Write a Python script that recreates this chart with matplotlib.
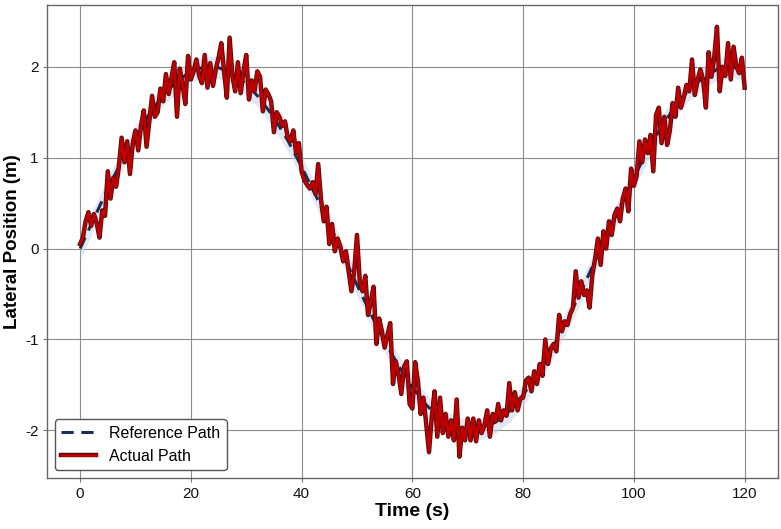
import matplotlib
matplotlib.use("Agg")
import matplotlib.pyplot as plt
import matplotlib.patheffects as pe
import numpy as np

plt.rcParams['font.family'] = ['Liberation Sans', 'DejaVu Sans']
plt.rcParams['axes.unicode_minus'] = False

# reference path, every 2.5 s
t_ref = np.arange(0, 120.01, 2.5)
ref_path = [0.00, 0.33, 0.66, 0.96, 1.24, 1.48, 1.69, 1.84, 1.95, 2.00,
            1.99, 1.93, 1.81, 1.65, 1.44, 1.19, 0.90, 0.59, 0.27, -0.07,
            -0.40, -0.72, -1.02, -1.29, -1.53, -1.72, -1.87, -1.96, -2.00, -1.98,
            -1.91, -1.79, -1.61, -1.39, -1.13, -0.84, -0.53, -0.20, 0.13, 0.46,
            0.78, 1.08, 1.34, 1.57, 1.75, 1.88, 1.97, 2.00, 1.97]

# actual path, every 0.5 s
t_act = np.arange(0, 120.01, 0.5)
actual_path = [
    0.05, 0.12, 0.30, 0.40, 0.25, 0.38, 0.28, 0.12, 0.42, 0.36,
    0.85, 0.55, 0.78, 0.68, 0.90, 1.22, 0.95, 1.18, 0.82, 1.15,
    1.30, 1.08, 1.35, 1.52, 1.12, 1.40, 1.68, 1.45, 1.50, 1.76,
    1.62, 1.92, 1.70, 1.88, 2.05, 1.45, 1.98, 1.80, 1.59, 2.12,
    1.86, 1.95, 2.08, 1.90, 1.82, 2.13, 1.77, 2.04, 1.79, 1.97,
    2.10, 2.26, 1.95, 1.66, 2.32, 1.90, 1.73, 2.05, 1.71, 1.95,
    2.13, 1.64, 1.85, 1.73, 1.95, 1.89, 1.51, 1.75, 1.70, 1.62,
    1.28, 1.50, 1.45, 1.35, 1.40, 1.22, 1.18, 1.30, 1.05, 1.16,
    0.85, 0.75, 0.70, 0.66, 0.73, 0.60, 0.93, 0.54, 0.30, 0.46,
    0.05, 0.27, -0.03, 0.11, 0.02, -0.14, -0.03, -0.25, -0.47, -0.25,
    0.15, -0.36, -0.47, -0.30, -0.73, -0.58, -0.42, -1.05, -0.77, -0.91,
    -1.09, -0.95, -0.82, -1.49, -1.24, -1.38, -1.60, -1.30, -1.24, -1.71,
    -1.76, -1.25, -1.46, -1.82, -1.64, -1.93, -2.24, -1.86, -1.57, -2.07,
    -1.64, -2.03, -1.82, -2.07, -1.89, -2.11, -1.66, -2.29, -1.97, -2.11,
    -1.87, -2.11, -1.87, -2.12, -1.89, -2.03, -1.95, -1.78, -2.07, -1.82,
    -1.90, -1.71, -1.89, -1.78, -1.84, -1.48, -1.78, -1.58, -1.78, -1.65,
    -1.64, -1.45, -1.42, -1.57, -1.35, -1.49, -1.27, -1.40, -1.00, -1.27,
    -1.10, -1.05, -1.13, -0.73, -0.91, -0.80, -0.84, -0.72, -0.65, -0.25,
    -0.54, -0.36, -0.51, -0.46, -0.65, -0.29, -0.11, 0.11, -0.18, 0.19,
    0.00, 0.30, 0.15, 0.37, 0.44, 0.30, 0.55, 0.66, 0.41, 0.88,
    0.69, 0.80, 1.18, 0.95, 1.20, 1.05, 1.25, 0.85, 1.47, 1.55,
    1.16, 1.45, 1.14, 1.30, 1.60, 1.45, 1.77, 1.55, 1.66, 1.80,
    1.73, 2.08, 1.69, 1.85, 1.97, 1.86, 1.55, 2.16, 1.89, 2.10,
    2.44, 1.73, 2.00, 1.90, 2.26, 1.86, 2.22, 2.00, 1.93, 2.10,
    1.77]

band = 0.12

fig = plt.figure(figsize=(7.81, 5.29), dpi=100)
ax = fig.add_axes([0.060, 0.096, 0.936, 0.894])

ref = np.array(ref_path)
ax.fill_between(t_ref, ref - band, ref + band, color='#c9d6ec', alpha=0.55, lw=0)
ax.plot(t_ref, ref, color='#1c2f57', lw=2.2, ls=(0, (4, 2.5)), label='Reference Path')
ax.plot(t_act, actual_path, color='#c00000', lw=2.0, label='Actual Path',
        path_effects=[pe.Stroke(linewidth=3.2, foreground='#4a0d0d'), pe.Normal()])

ax.set_xticks([0, 20, 40, 60, 80, 100, 120])
ax.set_yticks([-2, -1, 0, 1, 2])
ax.grid(True, color='#8c8c8c', lw=0.8)
ax.set_axisbelow(True)
ax.tick_params(labelsize=11, length=3, pad=3, color='#777777', colors='#111111')
for s in ax.spines.values():
    s.set_color('#666666')
    s.set_linewidth(1.0)

ax.set_xlabel('Time (s)', fontsize=14, fontweight='bold', labelpad=2)
ax.set_ylabel('Lateral Position (m)', fontsize=13.5, fontweight='bold', labelpad=3)

leg = ax.legend(loc='lower left', fontsize=11.5, frameon=True, fancybox=True,
                edgecolor='#555555', framealpha=1.0, handlelength=2.2)
leg.get_frame().set_linewidth(1.0)

fig.savefig('out.png', dpi=100)
